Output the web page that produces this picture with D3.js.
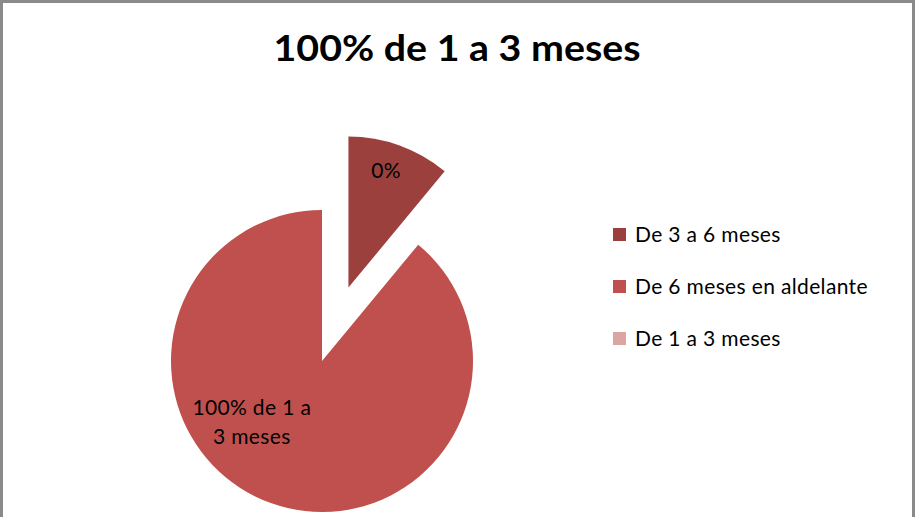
<!DOCTYPE html>
<html>
<head>
<meta charset="utf-8">
<script src="https://cdn.jsdelivr.net/npm/d3@7"></script>
<style>
  html, body { margin: 0; padding: 0; background: #fff; }
  svg { display: block; }
</style>
</head>
<body>
<script>
const width = 915;
const height = 517;

// Chart data
const title = "100% de 1 a 3 meses";
const categories = ["De 3 a 6 meses", "De 6 meses en aldelante", "De 1 a 3 meses"];
const values = [11, 89, 0];
const colors = ["#9C403E", "#C0504D", "#DBA5A4"];
const dataLabels = [["0%"], ["100% de 1 a", "3 meses"], []];

const bodyFont = "Lato, 'DejaVu Sans', sans-serif";

const svg = d3.select("body").append("svg")
    .attr("width", width)
    .attr("height", height);

// Chart area border (bottom runs off the picture)
svg.append("rect")
    .attr("x", 1.5).attr("y", 1.5)
    .attr("width", width - 3).attr("height", height + 10)
    .attr("fill", "#fff")
    .attr("stroke", "#8a8a8a")
    .attr("stroke-width", 3);

svg.append("text")
    .attr("x", 457).attr("y", 61)
    .attr("text-anchor", "middle")
    .attr("font-family", bodyFont)
    .attr("font-weight", "bold")
    .attr("font-size", 36)
    .attr("textLength", 367)
    .attr("lengthAdjust", "spacingAndGlyphs")
    .attr("fill", "#000")
    .text(title);

const cx = 322, cy = 361, radius = 151;
const explode = [78, 0, 0];

const pie = d3.pie().sort(null).value(d => d)(values);
const arc = d3.arc().innerRadius(0).outerRadius(radius);

const g = svg.append("g").attr("transform", `translate(${cx},${cy})`);

const slices = g.selectAll("g.slice")
    .data(pie)
    .join("g")
    .attr("class", "slice")
    .attr("transform", (d, i) => {
        const mid = (d.startAngle + d.endAngle) / 2;
        return `translate(${Math.sin(mid) * explode[i]},${-Math.cos(mid) * explode[i]})`;
    });

slices.append("path")
    .attr("d", arc)
    .attr("fill", (d, i) => colors[i]);

// label placement: angle (degrees) and distance as fraction of radius
const labelPos = [{a: 18, r: 0.81}, {a: 228.6, r: 0.62}, {a: 0, r: 0}];
const lineHeight = 29;

slices.each(function(d, i) {
    const lines = dataLabels[i];
    if (!lines.length) return;
    const a = labelPos[i].a * Math.PI / 180;
    const rr = labelPos[i].r * radius;
    const x = Math.sin(a) * rr;
    const y = -Math.cos(a) * rr;
    const t = d3.select(this).append("text")
        .attr("text-anchor", "middle")
        .attr("font-family", bodyFont)
        .attr("font-size", 21)
        .attr("letter-spacing", 0.35)
        .attr("fill", "#000");
    lines.forEach((line, j) => {
        t.append("tspan")
            .attr("x", x)
            .attr("y", y + 7 + (j - (lines.length - 1) / 2) * lineHeight)
            .text(line);
    });
});

// Legend
const legend = svg.append("g").attr("transform", "translate(613,228)");
const item = legend.selectAll("g")
    .data(categories)
    .join("g")
    .attr("transform", (d, i) => `translate(0,${i * 52})`);

item.append("rect")
    .attr("width", 13).attr("height", 13)
    .attr("fill", (d, i) => colors[i]);

item.append("text")
    .attr("x", 22).attr("y", 14)
    .attr("font-family", bodyFont)
    .attr("font-size", 21)
    .attr("letter-spacing", 0.35)
    .attr("fill", "#000")
    .text(d => d);
</script>
</body>
</html>
